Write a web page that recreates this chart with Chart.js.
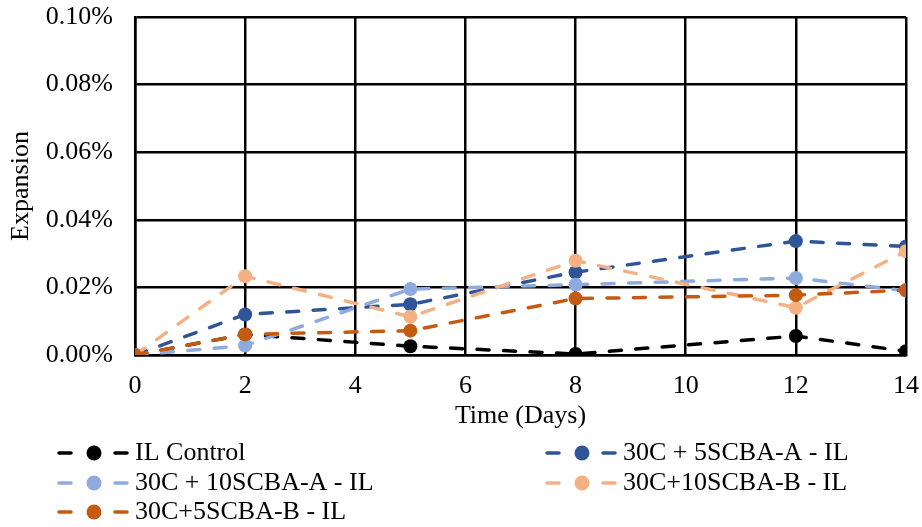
<!DOCTYPE html>
<html>
<head>
<meta charset="utf-8">
<script src="https://cdn.jsdelivr.net/npm/chart.js@4/dist/chart.umd.min.js"></script>
<style>
  html, body { margin: 0; padding: 0; background: #ffffff; }
  #wrap { width: 922px; height: 527px; position: relative; }
</style>
</head>
<body>
<div id="wrap"><canvas id="c" width="922" height="527"></canvas></div>
<script>
// ---- Data (expansion in %) ----
const days = [0, 2, 5, 8, 12, 14];
const seriesLabels = [
  "IL Control",
  "30C + 5SCBA-A - IL",
  "30C + 10SCBA-A - IL",
  "30C+10SCBA-B - IL",
  "30C+5SCBA-B - IL"
];
const ilControl = [0, 0.0061, 0.0026, 0.0003, 0.0056, 0.0011];
const c30_5SCBA_A = [0, 0.0120, 0.0150, 0.0245, 0.0337, 0.0321];
const c30_10SCBA_A = [0, 0.0028, 0.0195, 0.0208, 0.0228, 0.0190];
const c30_10SCBA_B = [0, 0.0233, 0.0113, 0.0279, 0.0140, 0.0307];
const c30_5SCBA_B = [0, 0.0061, 0.0072, 0.0167, 0.0177, 0.0192];
const seriesValues = [ilControl, c30_5SCBA_A, c30_10SCBA_A, c30_10SCBA_B, c30_5SCBA_B];
const seriesColors = ["#000000", "#2F5597", "#8FAADC", "#F4B183", "#C55A11"];
const xTicks = [0, 2, 4, 6, 8, 10, 12, 14];
const yTicks = [0, 0.02, 0.04, 0.06, 0.08, 0.10];

const FONT = "'Liberation Serif', 'Times New Roman', serif";
const FS = 26;

const datasets = seriesValues.map((vals, i) => ({
  label: seriesLabels[i],
  data: days.map((d, j) => ({ x: d, y: vals[j] })),
  borderColor: seriesColors[i],
  backgroundColor: seriesColors[i],
  borderWidth: 3.5,
  borderCapStyle: 'round',
  borderDash: [12, 14.5],
  pointRadius: 7,
  pointHoverRadius: 7,
  pointBorderWidth: 0,
  pointBackgroundColor: seriesColors[i],
  tension: 0,
  fill: false,
  order: seriesValues.length - i
}));

function zeroPad(scale) {
  scale.paddingTop = 0;
  scale.paddingBottom = 0;
  scale.paddingLeft = 0;
  scale.paddingRight = 0;
}

const legendPlugin = {
  id: 'excelLegend',
  afterDraw(chart) {
    const ctx = chart.ctx;
    const colX = [58, 546];
    const rowY = [453, 483, 512];
    ctx.save();
    ctx.font = FS + "px " + FONT;
    ctx.textBaseline = 'middle';
    ctx.textAlign = 'left';
    chart.data.datasets.forEach((ds, i) => {
      const x = colX[i % 2];
      const y = rowY[Math.floor(i / 2)];
      ctx.strokeStyle = ds.borderColor;
      ctx.lineWidth = 3.5;
      ctx.lineCap = 'round';
      ctx.setLineDash([]);
      ctx.beginPath();
      ctx.moveTo(x + 1, y); ctx.lineTo(x + 13, y);
      ctx.moveTo(x + 57, y); ctx.lineTo(x + 69, y);
      ctx.stroke();
      ctx.fillStyle = ds.borderColor;
      ctx.beginPath();
      ctx.arc(x + 36, y, 7.5, 0, Math.PI * 2);
      ctx.fill();
      ctx.fillStyle = '#000000';
      ctx.fillText(ds.label, x + 77, y);
    });
    ctx.restore();
  }
};

new Chart(document.getElementById('c'), {
  type: 'line',
  data: { datasets },
  options: {
    responsive: false,
    animation: false,
    devicePixelRatio: 1,
    layout: { padding: { left: 0, top: 17, right: 16, bottom: 0 } },
    plugins: {
      legend: { display: false },
      tooltip: { enabled: false }
    },
    scales: {
      x: {
        type: 'linear',
        min: 0, max: 14,
        afterFit(scale) { scale.height = 527 - 355; zeroPad(scale); },
        afterBuildTicks(scale) { scale.ticks = xTicks.map(v => ({ value: v })); },
        grid: { color: '#000000', lineWidth: 2.5, drawTicks: false },
        border: { color: '#000000', width: 2.5 },
        ticks: {
          color: '#000000',
          padding: 16,
          maxRotation: 0,
          font: { family: FONT, size: FS },
          callback: v => String(v)
        },
        title: {
          display: true,
          text: 'Time (Days)',
          color: '#000000',
          font: { family: FONT, size: FS },
          padding: { top: 0, bottom: 95 }
        }
      },
      y: {
        min: 0, max: 0.10,
        afterFit(scale) { scale.width = 135; zeroPad(scale); },
        afterBuildTicks(scale) { scale.ticks = yTicks.map(v => ({ value: v })); },
        grid: { color: '#000000', lineWidth: 2.5, drawTicks: false },
        border: { color: '#000000', width: 2.5 },
        ticks: {
          color: '#000000',
          padding: 22,
          font: { family: FONT, size: FS },
          callback: v => v.toFixed(2) + '%'
        },
        title: {
          display: true,
          text: 'Expansion',
          color: '#000000',
          font: { family: FONT, size: FS },
          padding: { top: 6, bottom: 0 }
        }
      }
    }
  },
  plugins: [legendPlugin]
});
</script>
</body>
</html>
